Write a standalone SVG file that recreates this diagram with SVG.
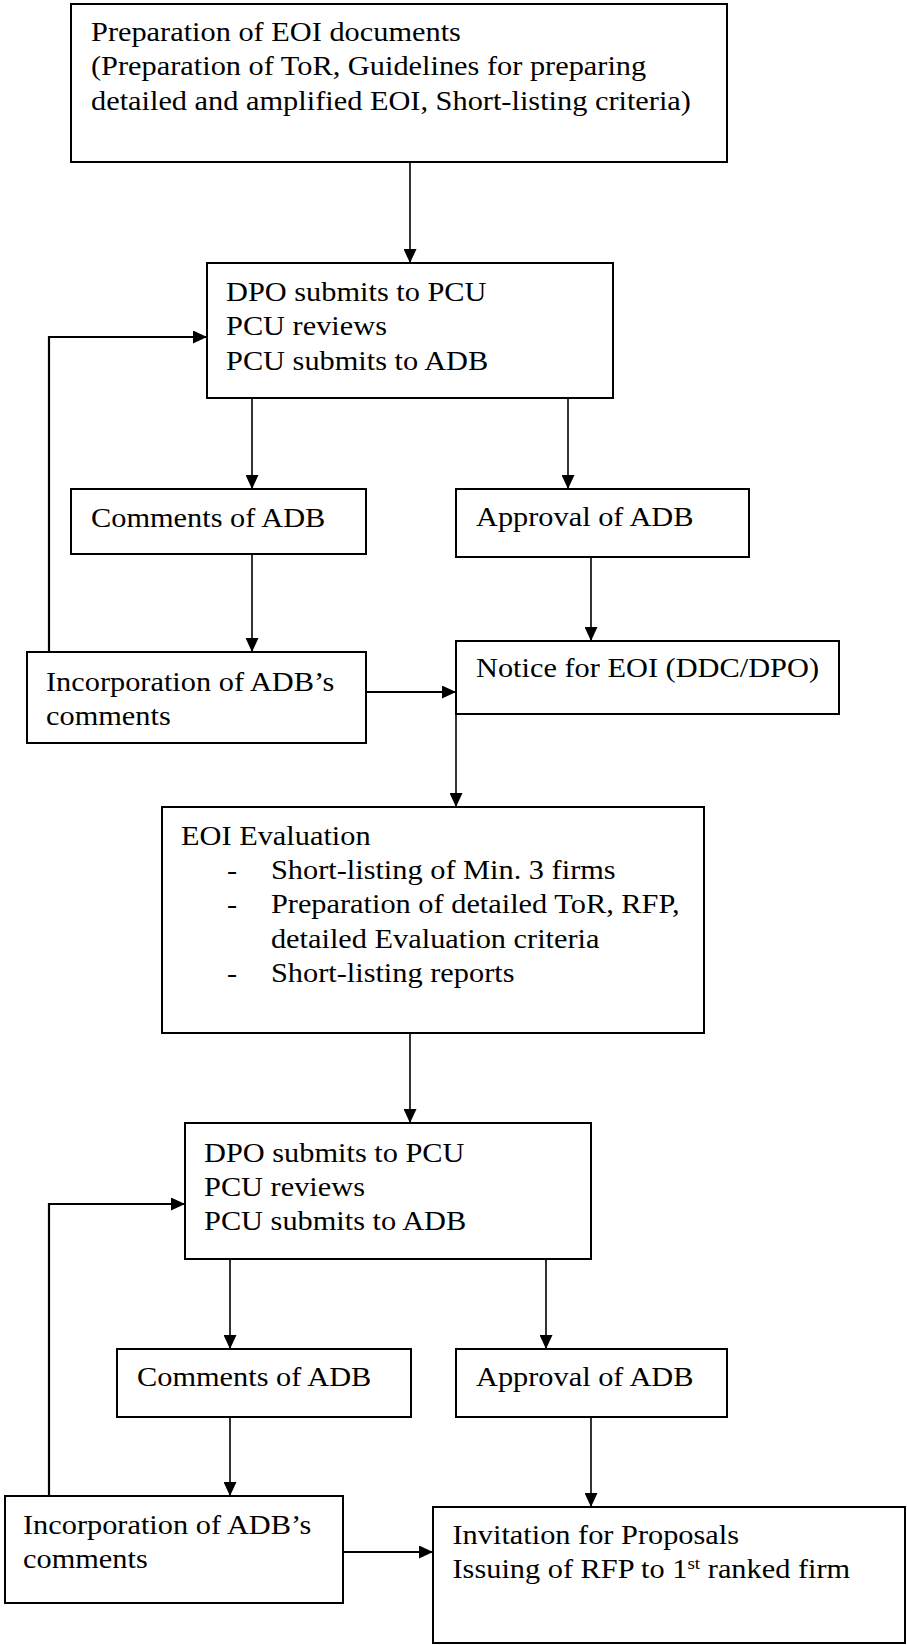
<svg xmlns="http://www.w3.org/2000/svg" width="907" height="1645" viewBox="0 0 907 1645">
<style>
.box{fill:#fff;stroke:#000;stroke-width:2}
.t{font-family:"Liberation Serif","Times New Roman",serif;font-size:27px;fill:#000}
.c{fill:none;stroke:#000;stroke-width:1.6}
.h{fill:none;stroke:#000;stroke-width:2.2}
.sup{font-size:17px}
</style>
<defs>
<marker id="ah" markerUnits="userSpaceOnUse" markerWidth="14" markerHeight="13" refX="14" refY="6.5" orient="auto">
<path d="M0,0 L14,6.5 L0,13 z" fill="#000"/>
</marker>
</defs>
<rect width="907" height="1645" fill="#fff"/>
<g id="connectors">
<path class="c" d="M410,162 V263" marker-end="url(#ah)"/>
<path class="c" d="M252,398 V489" marker-end="url(#ah)"/>
<path class="c" d="M568,398 V489" marker-end="url(#ah)"/>
<path class="c" d="M252,554 V652" marker-end="url(#ah)"/>
<path class="c" d="M591,550 V641" marker-end="url(#ah)"/>
<path class="h" d="M366,692 H456" marker-end="url(#ah)"/>
<path class="h" d="M49,652 V337 H207" marker-end="url(#ah)"/>
<path class="c" d="M456,714 V807" marker-end="url(#ah)"/>
<path class="c" d="M410,1033 V1123" marker-end="url(#ah)"/>
<path class="c" d="M230,1259 V1349" marker-end="url(#ah)"/>
<path class="c" d="M546,1259 V1349" marker-end="url(#ah)"/>
<path class="c" d="M230,1417 V1496" marker-end="url(#ah)"/>
<path class="c" d="M591,1417 V1507" marker-end="url(#ah)"/>
<path class="h" d="M343,1552 H433" marker-end="url(#ah)"/>
<path class="h" d="M49,1496 V1204 H185" marker-end="url(#ah)"/>
</g>
<g id="prep-eoi">
<rect class="box" x="71" y="4" width="656" height="158"/>
<text class="t" transform="translate(91,41) scale(1.124,1)"><tspan x="0" y="0">Preparation of EOI documents</tspan><tspan x="0" y="34.5">(Preparation of ToR, Guidelines for preparing</tspan><tspan x="0" y="69">detailed and amplified EOI, Short-listing criteria)</tspan></text>
</g>
<g id="submit-1">
<rect class="box" x="207" y="263" width="406" height="135"/>
<text class="t" transform="translate(226,301) scale(1.124,1)"><tspan x="0" y="0">DPO submits to PCU</tspan><tspan x="0" y="34.5">PCU reviews</tspan><tspan x="0" y="69">PCU submits to ADB</tspan></text>
</g>
<g id="comments-1">
<rect class="box" x="71" y="489" width="295" height="65"/>
<text class="t" transform="translate(91,527) scale(1.124,1)">Comments of ADB</text>
</g>
<g id="approval-1">
<rect class="box" x="456" y="489" width="293" height="68"/>
<text class="t" transform="translate(476,526) scale(1.124,1)">Approval of ADB</text>
</g>
<g id="incorporation-1">
<rect class="box" x="27" y="652" width="339" height="91"/>
<text class="t" transform="translate(46,691) scale(1.124,1)"><tspan x="0" y="0">Incorporation of ADB’s</tspan><tspan x="0" y="34.5">comments</tspan></text>
</g>
<g id="notice-eoi">
<rect class="box" x="456" y="641" width="383" height="73"/>
<text class="t" transform="translate(476,677) scale(1.124,1)">Notice for EOI (DDC/DPO)</text>
</g>
<g id="eoi-evaluation">
<rect class="box" x="162" y="807" width="542" height="226"/>
<text class="t" transform="translate(181,844.5) scale(1.124,1)"><tspan x="0" y="0">EOI Evaluation</tspan><tspan x="41" y="34.5">-</tspan><tspan x="80" y="34.5">Short-listing of Min. 3 firms</tspan><tspan x="41" y="69">-</tspan><tspan x="80" y="69">Preparation of detailed ToR, RFP,</tspan><tspan x="80" y="103.5">detailed Evaluation criteria</tspan><tspan x="41" y="138">-</tspan><tspan x="80" y="138">Short-listing reports</tspan></text>
</g>
<g id="submit-2">
<rect class="box" x="185" y="1123" width="406" height="136"/>
<text class="t" transform="translate(204,1161.5) scale(1.124,1)"><tspan x="0" y="0">DPO submits to PCU</tspan><tspan x="0" y="34.5">PCU reviews</tspan><tspan x="0" y="69">PCU submits to ADB</tspan></text>
</g>
<g id="comments-2">
<rect class="box" x="117" y="1349" width="294" height="68"/>
<text class="t" transform="translate(137,1386) scale(1.124,1)">Comments of ADB</text>
</g>
<g id="approval-2">
<rect class="box" x="456" y="1349" width="271" height="68"/>
<text class="t" transform="translate(476,1386) scale(1.124,1)">Approval of ADB</text>
</g>
<g id="incorporation-2">
<rect class="box" x="5" y="1496" width="338" height="107"/>
<text class="t" transform="translate(23,1533.5) scale(1.124,1)"><tspan x="0" y="0">Incorporation of ADB’s</tspan><tspan x="0" y="34.5">comments</tspan></text>
</g>
<g id="invitation">
<rect class="box" x="433" y="1507" width="472" height="136"/>
<text class="t" transform="translate(452.5,1544) scale(1.124,1)"><tspan x="0" y="0">Invitation for Proposals</tspan><tspan x="0" y="34.5">Issuing of RFP to 1</tspan><tspan class="sup" dy="-9">st</tspan><tspan dy="9"> ranked firm</tspan></text>
</g>
</svg>
